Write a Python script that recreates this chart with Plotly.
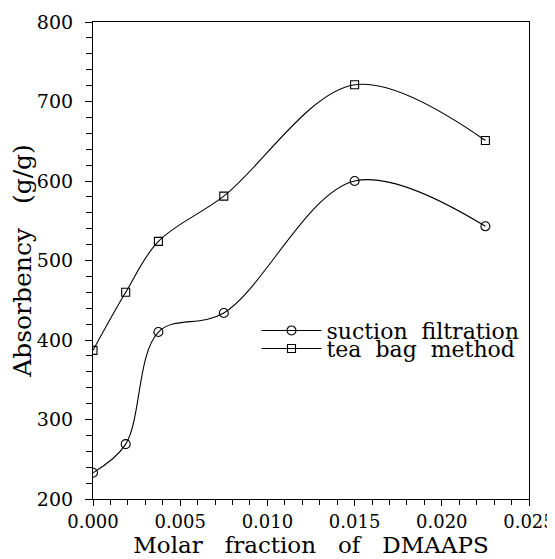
import plotly.graph_objects as go

x_vals = [0.0, 0.001875, 0.00375, 0.0075, 0.015, 0.0225]
suction = [233, 269, 410, 434, 600, 543]
teabag = [387, 460, 524, 581, 721, 651]
series_names = ["suction\u00a0\u00a0filtration", "tea\u00a0\u00a0bag\u00a0\u00a0method"]
x_tick_vals = [0.0, 0.005, 0.010, 0.015, 0.020, 0.025]
x_tick_text = ["0.000", "0.005", "0.010", "0.015", "0.020", "0.025"]
y_tick_vals = [200, 300, 400, 500, 600, 700, 800]

FONT = "DejaVu Serif"
SP = "\u00a0\u00a0\u00a0"

fig = go.Figure()
fig.add_trace(go.Scatter(
    x=x_vals, y=suction, mode="lines+markers", name=series_names[0], legend="legend",
    line=dict(color="black", width=1.1, shape="spline", smoothing=1.0),
    marker=dict(symbol="circle-open", size=9, color="black", line=dict(width=1.1)),
))
fig.add_trace(go.Scatter(
    x=x_vals, y=teabag, mode="lines+markers", name=series_names[1], legend="legend2",
    line=dict(color="black", width=1.1, shape="spline", smoothing=1.0),
    marker=dict(symbol="square-open", size=8, color="black", line=dict(width=1.1)),
))

leg_common = dict(xanchor="left", yanchor="top", bgcolor="rgba(0,0,0,0)",
                  font=dict(size=22, family=FONT), itemwidth=60)

# The page has an 8px body margin, so the figure is sized 8px smaller and margins compensate.
fig.update_layout(
    width=547, height=551,
    margin=dict(l=85, r=26, t=14, b=60),
    paper_bgcolor="white", plot_bgcolor="white",
    font=dict(family=FONT, color="black", size=19),
    showlegend=True,
    legend=dict(x=0.375, y=0.397, **leg_common),
    legend2=dict(x=0.375, y=0.359, **leg_common),
    xaxis=dict(
        range=[0, 0.025], tickvals=x_tick_vals, ticktext=x_tick_text,
        ticks="outside", ticklen=6, tickwidth=1, tickcolor="black",
        minor=dict(dtick=0.001, ticks="outside", ticklen=5, tickcolor="black", tickwidth=1),
        showline=True, linecolor="black", linewidth=1.2, mirror=True,
        showgrid=False, zeroline=False, automargin=False,
        ticklabeloverflow="allow",
        tickfont=dict(size=18, family=FONT),
        title=dict(text=SP + "Molar" + SP + "fraction" + SP + "of" + SP + "DMAAPS",
                   font=dict(size=23, family=FONT), standoff=1),
    ),
    yaxis=dict(
        range=[200, 800], tickvals=y_tick_vals,
        ticks="outside", ticklen=7, tickwidth=1, tickcolor="black",
        minor=dict(dtick=20, ticks="outside", ticklen=6, tickcolor="black", tickwidth=1),
        showline=True, linecolor="black", linewidth=1.2, mirror=True,
        showgrid=False, zeroline=False, automargin=False,
        ticklabelstandoff=8,
        tickfont=dict(size=19, family=FONT),
        title=dict(text="Absorbency" + SP + "(g/g)",
                   font=dict(size=25, family=FONT), standoff=2),
    ),
)

fig.write_html("out.html")
